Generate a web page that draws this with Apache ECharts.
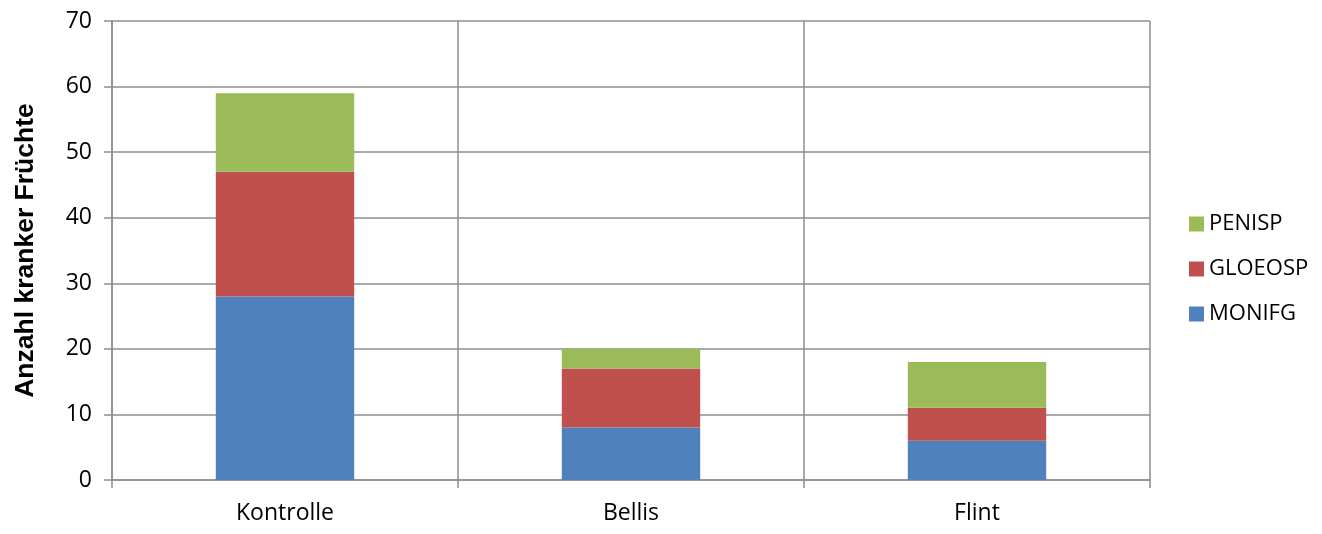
<!DOCTYPE html>
<html>
<head>
<meta charset="utf-8">
<script src="https://cdn.jsdelivr.net/npm/echarts@6/dist/echarts.min.js"></script>
<style>html,body{margin:0;padding:0;background:#fff;}#c{width:1322px;height:534px;}</style>
</head>
<body>
<div id="c"></div>
<script>
var categories = ['Kontrolle', 'Bellis', 'Flint'];
var monifg = [28, 8, 6];
var gloeosp = [19, 9, 5];
var penisp = [12, 3, 7];
var seriesNames = ['MONIFG', 'GLOEOSP', 'PENISP'];
var legendOrder = ['PENISP', 'GLOEOSP', 'MONIFG'];
var yTitle = 'Anzahl kranker Früchte';

var colors = ['#4F81BD', '#C0504D', '#9BBB59'];
var values = [monifg, gloeosp, penisp];
var gridColor = '#8e8e8e';
var font = '"Open Sans", "Noto Sans", sans-serif';

var chart = echarts.init(document.getElementById('c'), null, {renderer: 'canvas'});
chart.setOption({
  animation: false,
  backgroundColor: '#ffffff',
  grid: {left: 112, right: 172, top: 21, bottom: 54, containLabel: false},
  legend: {
    orient: 'vertical',
    left: 1184,
    top: 208,
    itemWidth: 15,
    itemHeight: 15,
    itemGap: 23,
    icon: 'rect',
    data: legendOrder,
    textStyle: {fontFamily: font, fontSize: 22, color: '#000'}
  },
  xAxis: {
    type: 'category',
    data: categories,
    boundaryGap: true,
    axisLine: {show: true, lineStyle: {color: gridColor, width: 1.5}},
    axisTick: {show: true, length: 8, lineStyle: {color: gridColor, width: 1.5}},
    axisLabel: {fontFamily: font, fontSize: 23, color: '#000', margin: 22},
    splitLine: {show: true, lineStyle: {color: gridColor, width: 1.5}}
  },
  yAxis: {
    type: 'value',
    min: 0,
    max: 70,
    interval: 10,
    name: yTitle,
    nameLocation: 'middle',
    nameGap: 73,
    nameTextStyle: {fontFamily: '"Liberation Sans", Arial, sans-serif', fontWeight: 'bold', fontSize: 26.5, color: '#000'},
    axisLine: {show: true, lineStyle: {color: gridColor, width: 1.5}},
    axisTick: {show: true, length: 8, lineStyle: {color: gridColor, width: 1.5}},
    axisLabel: {fontFamily: font, fontSize: 23, color: '#000', margin: 20},
    splitLine: {show: true, lineStyle: {color: gridColor, width: 1.5}}
  },
  series: seriesNames.map(function (n, i) {
    return {
      name: n,
      type: 'bar',
      stack: 'total',
      barWidth: '40%',
      data: values[i],
      itemStyle: {color: colors[i]}
    };
  })
});
</script>
</body>
</html>
